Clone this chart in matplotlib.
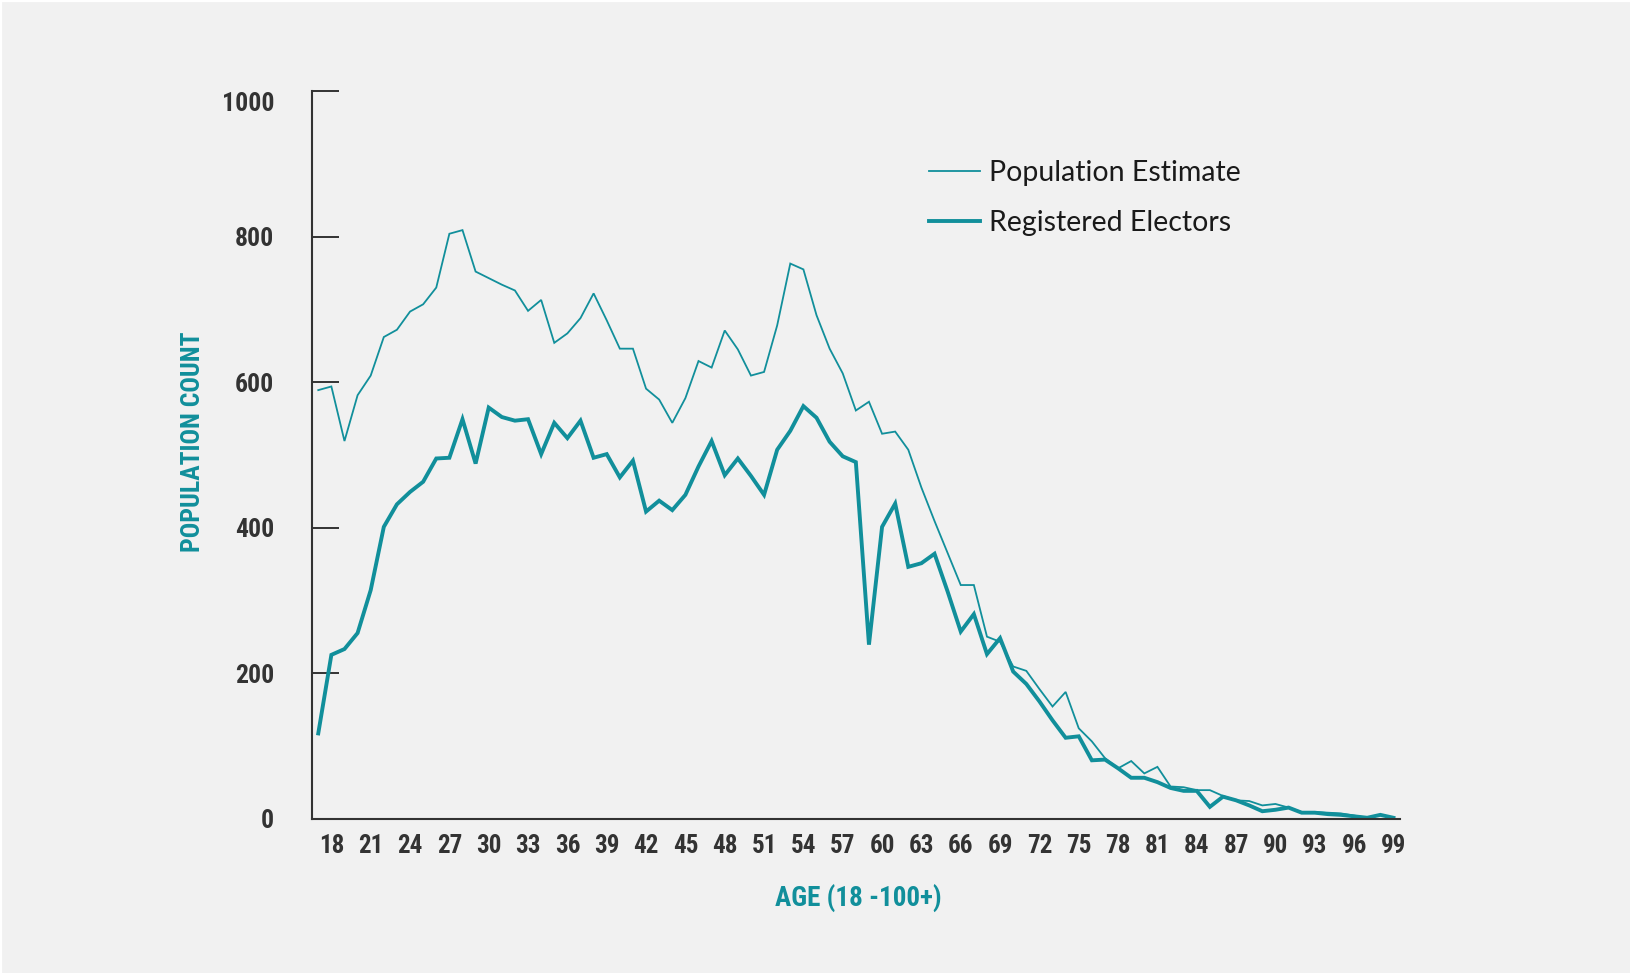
import matplotlib
matplotlib.use("Agg")
import matplotlib.pyplot as plt
from matplotlib.lines import Line2D
import matplotlib.transforms as mtransforms
import numpy as np

# ---- data ----
population_estimate = [
    589, 594, 519, 582, 609, 662, 672, 697, 707, 730,
    804, 809, 752, 743, 734, 726, 698, 713, 654, 667,
    688, 722, 685, 646, 646, 591, 576, 544, 578, 629,
    620, 671, 645, 609, 614, 678, 763, 755, 692, 646,
    612, 561, 573, 529, 532, 507, 455, 409, 365, 321,
    321, 250, 243, 209, 203, 178, 154, 174, 124, 106,
    83, 69, 79, 62, 71, 44, 43, 39, 39, 31,
    25, 24, 18, 20, 15, 9, 9, 8, 7, 4,
    1, 5, 1,
]
registered_electors = [
    117, 225, 233, 255, 314, 401, 432, 449, 463, 495,
    496, 549, 488, 565, 552, 547, 549, 501, 544, 523,
    547, 496, 501, 469, 492, 422, 437, 424, 445, 484,
    519, 472, 495, 471, 445, 507, 533, 567, 551, 518,
    498, 490, 239, 401, 433, 346, 351, 364, 312, 257,
    281, 226, 248, 202, 185, 161, 135, 111, 113, 80,
    81, 69, 56, 56, 50, 42, 38, 38, 16, 30,
    25, 18, 10, 12, 15, 8, 8, 6, 5, 3,
    1, 5, 1,
]
x_tick_labels = [str(a) for a in range(18, 100, 3)]
y_ticks = [0, 200, 400, 600, 800, 1000]
series_labels = ["Population Estimate", "Registered Electors"]
x_title = "AGE (18 -100+)"
y_title = "POPULATION COUNT"

# ---- style ----
TEAL = "#118f9b"
DARK = "#333333"
BG = "#f1f1f1"
COND = ["Liberation Sans Narrow", "Roboto Condensed", "Roboto", "DejaVu Sans"]

W, H = 1630, 973
fig = plt.figure(figsize=(W / 100, H / 100), dpi=100, facecolor=BG)

left, right = 311.7, 1400.0
top, bottom = 91.2, 818.5
ax = fig.add_axes([left / W, 1 - bottom / H, (right - left) / W, (bottom - top) / H])
ax.set_facecolor(BG)

x = np.arange(len(population_estimate))
ax.plot(x, population_estimate, color=TEAL, lw=1.3, label=series_labels[0],
        solid_joinstyle="miter")
ax.plot(x, registered_electors, color=TEAL, lw=2.8, label=series_labels[1],
        solid_joinstyle="miter")

ax.set_xlim(-0.5, len(x) - 0.5)
ax.set_ylim(0, 1000)

tick_pos = np.arange(1, 1 + 3 * len(x_tick_labels), 3)
ax.set_xticks(tick_pos)
ax.set_xticklabels(x_tick_labels)
ax.set_yticks(y_ticks)
ax.set_yticklabels([str(v) for v in y_ticks])

for s in ["top", "right"]:
    ax.spines[s].set_visible(False)
for s in ["left", "bottom"]:
    ax.spines[s].set_color(DARK)
    ax.spines[s].set_linewidth(1.5)

ax.tick_params(axis="y", direction="in", length=19.5, width=1.4, color=DARK,
               pad=27, labelcolor=DARK)
ax.tick_params(axis="x", length=0, pad=11.5, labelcolor=DARK)
for lab in ax.get_xticklabels():
    lab.set_fontfamily(COND)
    lab.set_fontweight("bold")
    lab.set_fontsize(18)
for lab in ax.get_yticklabels():
    lab.set_fontfamily(COND)
    lab.set_fontweight("bold")
    lab.set_fontsize(18.5)

# the top (1000) label sits a little below its tick in the reference
top_tick = ax.yaxis.get_major_ticks()[-1]
top_tick.label1.set_transform(top_tick.label1.get_transform() +
                              mtransforms.ScaledTranslation(0, -10 / 100, fig.dpi_scale_trans))

leg = ax.legend(loc="upper left", bbox_to_anchor=(0.567, 0.906), frameon=False,
                borderpad=0, borderaxespad=0, handlelength=1.8, handletextpad=0.33,
                labelspacing=0.85, prop={"family": ["Lato", "DejaVu Sans"], "size": 20.5})
for t in leg.get_texts():
    t.set_color("#1a1a1a")

fig.text(193 / W, 1 - 442 / H, y_title, rotation=90, ha="center", va="center",
         color=TEAL, fontsize=18.5, fontweight="bold", family=COND)
fig.text(858 / W, 1 - 899 / H, x_title, ha="center", va="center",
         color=TEAL, fontsize=19.5, fontweight="bold", family=COND)

# thin white border at top and left of the canvas
fig.add_artist(Line2D([0, 1], [1, 1], transform=fig.transFigure, color="white", lw=3))
fig.add_artist(Line2D([0, 0], [0, 1], transform=fig.transFigure, color="white", lw=3))

fig.savefig("out.png", dpi=100, facecolor=BG)
